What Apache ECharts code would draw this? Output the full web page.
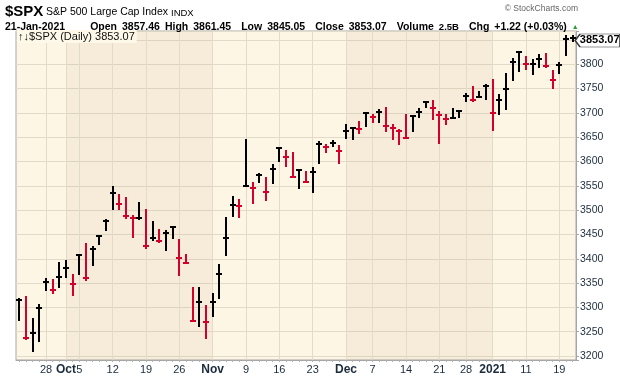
<!DOCTYPE html>
<html>
<head>
<meta charset="utf-8">
<script src="https://cdn.jsdelivr.net/npm/echarts@6.0.0/dist/echarts.min.js"></script>
<style>
html, body { margin: 0; padding: 0; background: #fff; }
#chart { width: 620px; height: 376px; }
</style>
</head>
<body>
<div id="chart"></div>
<script>
// daily bars
var dates = [
	'2020-09-22', '2020-09-23', '2020-09-24', '2020-09-25',
	'2020-09-28', '2020-09-29', '2020-09-30', '2020-10-01', '2020-10-02',
	'2020-10-05', '2020-10-06', '2020-10-07', '2020-10-08', '2020-10-09',
	'2020-10-12', '2020-10-13', '2020-10-14', '2020-10-15', '2020-10-16',
	'2020-10-19', '2020-10-20', '2020-10-21', '2020-10-22', '2020-10-23',
	'2020-10-26', '2020-10-27', '2020-10-28', '2020-10-29', '2020-10-30',
	'2020-11-02', '2020-11-03', '2020-11-04', '2020-11-05', '2020-11-06',
	'2020-11-09', '2020-11-10', '2020-11-11', '2020-11-12', '2020-11-13',
	'2020-11-16', '2020-11-17', '2020-11-18', '2020-11-19', '2020-11-20',
	'2020-11-23', '2020-11-24', '2020-11-25', '2020-11-27',
	'2020-11-30', '2020-12-01', '2020-12-02', '2020-12-03', '2020-12-04',
	'2020-12-07', '2020-12-08', '2020-12-09', '2020-12-10', '2020-12-11',
	'2020-12-14', '2020-12-15', '2020-12-16', '2020-12-17', '2020-12-18',
	'2020-12-21', '2020-12-22', '2020-12-23', '2020-12-24',
	'2020-12-28', '2020-12-29', '2020-12-30', '2020-12-31',
	'2021-01-04', '2021-01-05', '2021-01-06', '2021-01-07', '2021-01-08',
	'2021-01-11', '2021-01-12', '2021-01-13', '2021-01-14', '2021-01-15',
	'2021-01-19', '2021-01-20', '2021-01-21'
];
var highs = [
	3320, 3323, 3279, 3307,
	3361, 3358, 3394, 3397, 3369,
	3410, 3432, 3426, 3447, 3482,
	3550, 3534, 3528, 3489, 3516,
	3502, 3477, 3461, 3460, 3466,
	3441, 3410, 3342, 3341, 3305,
	3330, 3389, 3486, 3529, 3522,
	3646, 3557, 3576, 3569, 3594,
	3629, 3623, 3619, 3585, 3581,
	3588, 3642, 3635, 3644,
	3634, 3678, 3671, 3683, 3699,
	3698, 3708, 3712, 3678, 3666,
	3697, 3695, 3711, 3725, 3727,
	3703, 3698, 3711, 3704,
	3741, 3756, 3745, 3760,
	3770, 3738, 3783, 3812, 3827,
	3818, 3811, 3821, 3824, 3789,
	3805, 3860, 3861
];
var lows = [
	3271, 3233, 3209, 3228,
	3333, 3328, 3340, 3361, 3324,
	3367, 3355, 3385, 3428, 3458,
	3500, 3501, 3481, 3443, 3480,
	3420, 3436, 3433, 3415, 3440,
	3365, 3389, 3269, 3260, 3234,
	3280, 3318, 3405, 3486, 3484,
	3547, 3512, 3556, 3519, 3553,
	3600, 3589, 3567, 3544, 3557,
	3536, 3595, 3618, 3629,
	3594, 3646, 3645, 3657, 3671,
	3679, 3679, 3661, 3645, 3633,
	3646, 3660, 3689, 3711, 3686,
	3636, 3676, 3689, 3689,
	3723, 3723, 3730, 3727,
	3663, 3695, 3705, 3765, 3784,
	3789, 3777, 3792, 3793, 3749,
	3780, 3816, 3845
];
var closes = [
	3315.57, 3236.92, 3246.59, 3298.46,
	3351.60, 3335.47, 3363.00, 3380.80, 3348.42,
	3408.60, 3360.97, 3419.44, 3446.83, 3477.14,
	3534.22, 3511.93, 3488.67, 3483.34, 3483.81,
	3426.92, 3443.12, 3435.56, 3453.49, 3465.39,
	3400.97, 3390.68, 3271.03, 3310.11, 3269.96,
	3310.24, 3369.16, 3443.44, 3510.45, 3509.44,
	3550.50, 3545.53, 3572.66, 3537.01, 3585.15,
	3626.91, 3609.53, 3567.79, 3581.87, 3557.54,
	3577.59, 3635.41, 3629.65, 3638.35,
	3621.63, 3662.45, 3669.01, 3666.72, 3699.12,
	3691.96, 3702.25, 3672.82, 3668.10, 3663.46,
	3647.49, 3694.62, 3701.17, 3722.48, 3709.41,
	3694.92, 3687.26, 3690.01, 3703.06,
	3735.36, 3727.04, 3732.04, 3756.07,
	3700.65, 3726.86, 3748.14, 3803.79, 3824.68,
	3799.61, 3801.19, 3809.84, 3795.54, 3768.25,
	3798.91, 3851.85, 3853.07
];
// x axis: vertical grid lines and their labels
var gridDates = ['2020-09-28', '2020-10-01', '2020-10-05', '2020-10-12', '2020-10-19', '2020-10-26',
	'2020-11-02', '2020-11-09', '2020-11-16', '2020-11-23', '2020-12-01', '2020-12-07',
	'2020-12-14', '2020-12-21', '2020-12-28', '2021-01-04', '2021-01-11', '2021-01-19'];
var gridLabels = ['28', 'Oct', '5', '12', '19', '26', 'Nov', '9', '16', '23', 'Dec', '7',
	'14', '21', '28', '2021', '11', '19'];
// darker month bands (Oct, Dec)
var shadeFrom = ['2020-10-01', '2020-12-01'];
var shadeTo = ['2020-11-02', '2021-01-04'];
var lastClose = 3853.07;

var FONT = 'Liberation Sans, Arial, sans-serif';
var UP = '#000000', DOWN = '#d4002c', GRID = '#e2dbc9', INK = '#1c2c3c';

var bars = [];
for (var i = 0; i < dates.length; i++) {
	bars.push([i, highs[i], lows[i], closes[i]]);
}

var vLines = [];
for (var k = 0; k < gridDates.length; k++) {
	vLines.push({xAxis: gridDates[k]});
}

var areas = [];
for (var m = 0; m < shadeFrom.length; m++) {
	areas.push([{xAxis: shadeFrom[m]}, {xAxis: shadeTo[m]}]);
}

function txt(left, top, text, size, weight, color) {
	return {
		left: left, top: top, padding: 0, text: text,
		textStyle: {fontFamily: FONT, fontSize: size, fontWeight: weight || 'normal', color: color || '#000'}
	};
}

var chart = echarts.init(document.getElementById('chart'));
var option = {
	animation: false,
	backgroundColor: '#ffffff',
	title: [
		txt(5, 4, '$SPX', 15, 'bold'),
		txt(46, 7, 'S&P 500 Large Cap Index', 10.5),
		txt(171, 8, 'INDX', 9.5),
		{
			right: 42, top: 4, padding: 0,
			text: '© StockCharts.com',
			textStyle: {fontFamily: FONT, fontSize: 8.5, fontWeight: 'normal', color: '#666'}
		},
		{
			left: 5, top: 18, padding: 0,
			text: '{n|21-Jan-2021}     {b|Open} {n|3857.46} {b|High} {n|3861.45}  {b|Low} {n|3845.05}  {b|Close} {n|3853.07}  {b|Volume} {s|2.5B}  {b|Chg} {n|+1.22 (+0.03%)} {g|▲}',
			textStyle: {
				rich: {
					n: {fontFamily: FONT, fontSize: 10.5, color: '#000', lineHeight: 12},
					s: {fontFamily: FONT, fontSize: 9.5, color: '#000', lineHeight: 12},
					b: {fontFamily: FONT, fontSize: 10.5, fontWeight: 'bold', color: '#000', lineHeight: 12},
					g: {fontFamily: FONT, fontSize: 7, color: '#2a9a3a', lineHeight: 12}
				}
			}
		},
		{
			left: 17, top: 30,
			text: '↑↓$SPX (Daily) 3853.07',
			backgroundColor: '#fdf8e8',
			padding: [1, 2, 1, 1],
			textStyle: {fontFamily: FONT, fontSize: 11, fontWeight: 'normal', color: '#111'}
		}
	],
	grid: {
		left: 16, right: 44, top: 31, bottom: 16,
		show: true,
		backgroundColor: '#fdf6e4',
		borderColor: '#a6a6a6',
		borderWidth: 1,
		outerBoundsMode: 'none'
	},
	xAxis: {
		type: 'category',
		data: dates,
		boundaryGap: true,
		axisLine: {show: true, lineStyle: {color: '#a6a6a6'}},
		axisTick: {show: true, interval: 0, alignWithLabel: true, length: 2, lineStyle: {color: '#b0b0b0'}},
		splitLine: {show: false},
		axisLabel: {
			interval: function (idx, value) { return gridDates.indexOf(value) >= 0; },
			margin: 4,
			fontFamily: FONT,
			fontSize: 11,
			color: INK,
			formatter: function (value) {
				var t = gridLabels[gridDates.indexOf(value)];
				return /^[A-Z]|^20/.test(t) ? '{m|' + t + '}' : t;
			},
			rich: {
				m: {fontFamily: FONT, fontSize: 12, fontWeight: 'bold', color: INK}
			}
		}
	},
	yAxis: {
		type: 'value',
		position: 'right',
		min: 3191.8,
		max: 3868.4,
		splitNumber: 13,
		scale: true,
		axisLine: {show: true, lineStyle: {color: '#a6a6a6'}},
		axisTick: {show: true, length: 3, lineStyle: {color: '#a6a6a6'}},
		splitLine: {show: true, lineStyle: {color: GRID, width: 1}},
		axisLabel: {
			margin: 4,
			fontFamily: FONT,
			fontSize: 10.5,
			color: INK,
			formatter: function (v) {
				return (v % 50 === 0 && v <= 3800) ? String(v) : '';
			}
		}
	},
	series: [
		{
			type: 'line',
			data: closes,
			z: 1,
			silent: true,
			showSymbol: false,
			lineStyle: {width: 0, opacity: 0},
			markArea: {
				silent: true,
				z: 1,
				itemStyle: {color: 'rgba(170,140,110,0.085)'},
				data: areas
			},
			markLine: {
				silent: true,
				z: 1,
				symbol: ['none', 'none'],
				label: {show: false},
				lineStyle: {color: GRID, width: 1, type: 'solid'},
				emphasis: {disabled: true},
				data: vLines
			}
		},
		{
			type: 'custom',
			z: 3,
			data: bars,
			encode: {x: 0, y: [1, 2, 3]},
			renderItem: function (params, api) {
				var i = api.value(0);
				var hi = api.coord([i, api.value(1)]);
				var lo = api.coord([i, api.value(2)]);
				var cl = api.coord([i, api.value(3)]);
				var x = Math.round(hi[0]);
				var up = i === 0 || closes[i] >= closes[i - 1];
				var color = up ? UP : DOWN;
				var top = Math.round(hi[1]);
				var bot = Math.round(lo[1]);
				var cy = Math.round(cl[1]);
				return {
					type: 'group',
					children: [
						{type: 'rect', shape: {x: x - 1, y: top, width: 2, height: Math.max(bot - top, 2)}, style: {fill: color, stroke: null}},
						{type: 'rect', shape: {x: x - 3, y: cy - 1, width: 6, height: 2}, style: {fill: color, stroke: null}}
					]
				};
			},
			markPoint: {
				silent: true,
				z: 6,
				symbol: 'path://M0,6 L5,0 L46,0 L46,12 L5,12 Z',
				symbolSize: [45, 13],
				symbolOffset: [25, 2],
				itemStyle: {color: '#ffffff', borderColor: '#333333', borderWidth: 1},
				label: {
					show: true,
					position: 'inside',
					offset: [2, 0],
					formatter: '3853.07',
					fontFamily: FONT,
					fontSize: 11,
					fontWeight: 'bold',
					color: '#000'
				},
				data: [{coord: [dates[dates.length - 1], lastClose]}]
			}
		}
	]
};
chart.setOption(option);
</script>
</body>
</html>
